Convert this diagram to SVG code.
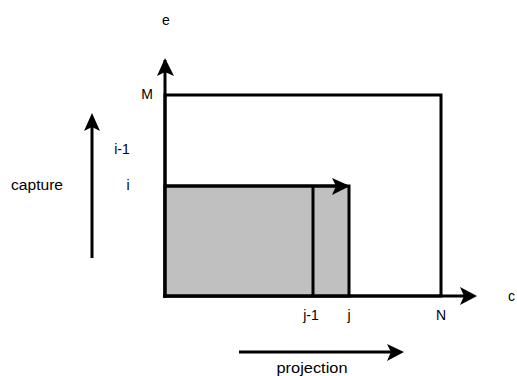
<svg xmlns="http://www.w3.org/2000/svg" width="517" height="376" viewBox="0 0 517 376">
<style>
.t{font-family:"Liberation Sans",Arial,sans-serif;font-size:14px;fill:#000;text-anchor:middle}
.s{stroke:#000;stroke-width:3;fill:none}
</style>
<rect width="517" height="376" fill="#fff"/>
<g id="outer"><rect x="165" y="95" width="276" height="201" class="s"/></g>
<g id="shaded"><rect x="165" y="186" width="184" height="110" fill="#c0c0c0" stroke="#000" stroke-width="3"/>
<line x1="313" y1="186" x2="313" y2="296" class="s"/></g>
<g id="connectors">
<line x1="165" y1="298" x2="165" y2="60" class="s"/>
<path d="M157,76 L165,58 L174,76 L165,72 Z" fill="#000"/>
<line x1="163" y1="296" x2="470" y2="296" class="s"/>
<path d="M460,287 L477,296 L460,305 L464,296 Z" fill="#000"/>
<line x1="165" y1="186" x2="345" y2="186" class="s"/>
<path d="M332,178 L350,186 L332,195 L336,186 Z" fill="#000"/>
<line x1="92" y1="258" x2="92" y2="118" class="s"/>
<path d="M84,131 L92,113 L100,131 L92,127 Z" fill="#000"/>
<line x1="239" y1="352" x2="398" y2="352" class="s"/>
<path d="M387,344 L404,352 L387,361 L391,352 Z" fill="#000"/>
</g>
<g id="labels">
<text class="t" x="166" y="25">e</text>
<text class="t" x="147" y="99">M</text>
<text class="t" x="122" y="154">i-1</text>
<text class="t" x="128" y="190">i</text>
<text class="t" x="37" y="190" textLength="52" lengthAdjust="spacingAndGlyphs">capture</text>
<text class="t" x="311" y="320">j-1</text>
<text class="t" x="349" y="320">j</text>
<text class="t" x="441" y="320">N</text>
<text class="t" x="508" y="301" style="text-anchor:start">c</text>
<text class="t" x="312" y="373" textLength="71" lengthAdjust="spacingAndGlyphs">projection</text>
</g>
</svg>
